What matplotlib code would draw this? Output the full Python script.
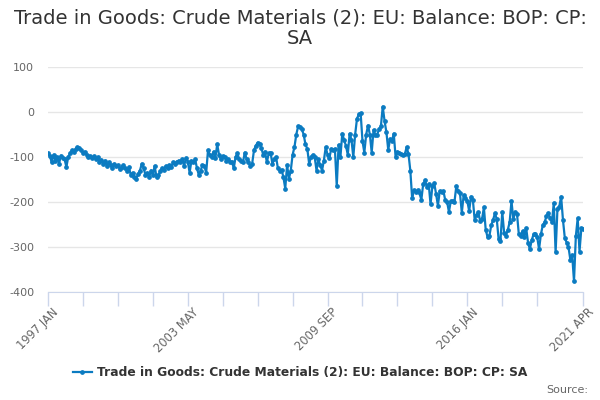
import numpy as np
import pandas as pd
import matplotlib
matplotlib.use("Agg")
import matplotlib.pyplot as plt

# monthly balance, 1997 JAN .. 2021 APR (GBP m)
balance = [
    -92, -97, -112, -95, -108, -100, -115, -97, -102, -105, -122, -100,   # 1997
    -92, -85, -88, -82, -78, -80, -84, -90, -88, -95, -100, -98,          # 1998
    -102, -98, -105, -100, -110, -106, -115, -108, -120, -112, -118, -125,  # 1999
    -115, -120, -118, -127, -122, -118, -125, -130, -122, -140, -135, -145,  # 2000
    -148, -138, -130, -115, -125, -140, -135, -145, -130, -140, -120, -145,  # 2001
    -140, -132, -125, -128, -120, -125, -118, -122, -112, -115, -110, -108,  # 2002
    -112, -105, -120, -102, -110, -135, -108, -112, -105, -125, -140, -130,  # 2003
    -118, -120, -135, -85, -95, -100, -88, -102, -72, -95, -105, -98,      # 2004
    -100, -108, -105, -112, -110, -125, -100, -92, -105, -108, -112, -90,  # 2005
    -105, -112, -120, -115, -85, -75, -68, -72, -80, -95, -88, -112,       # 2006
    -92, -90, -115, -105, -100, -125, -130, -128, -145, -170, -118, -148,  # 2007
    -130, -95, -78, -50, -32, -33, -38, -50, -72, -82, -115, -100,         # 2008
    -95, -100, -130, -105, -118, -130, -108, -78, -95, -102, -82, -85,     # 2009
    -82, -165, -73, -100, -48, -62, -75, -95, -48, -62, -100, -50,         # 2010
    -15, -5, -3, -65, -90, -50, -30, -50, -90, -40, -52, -50,              # 2011
    -38, -32, 12, -20, -45, -84, -60, -65, -48, -100, -88, -90,            # 2012
    -93, -95, -94, -78, -93, -130, -192, -174, -178, -174, -181, -195,     # 2013
    -160, -152, -166, -160, -205, -165, -158, -182, -208, -176, -178, -176,  # 2014
    -196, -200, -222, -198, -197, -200, -165, -175, -180, -224, -185, -190,  # 2015
    -198, -220, -188, -195, -240, -228, -222, -243, -238, -212, -262, -278,  # 2016
    -275, -252, -240, -225, -238, -282, -287, -222, -268, -275, -262, -245,  # 2017
    -198, -238, -222, -226, -272, -275, -265, -278, -258, -290, -305, -285,  # 2018
    -272, -270, -278, -305, -272, -252, -245, -232, -225, -235, -245, -202,  # 2019
    -312, -215, -210, -188, -240, -280, -290, -300, -328, -318, -376, -276,  # 2020
    -236, -310, -258, -260,                                                # 2021
]
months = pd.date_range("1997-01-01", periods=len(balance), freq="MS")
labelled_months = ["1997-01", "2003-05", "2009-09", "2016-01", "2021-04"]
y_ticks = [100, 0, -100, -200, -300, -400]

title = "Trade in Goods: Crude Materials (2): EU: Balance: BOP: CP:\nSA"
series_name = "Trade in Goods: Crude Materials (2): EU: Balance: BOP: CP: SA"

blue = "#0b7bc1"
grid_col = "#e6e6e6"
axis_col = "#ccd6eb"
text_col = "#333333"
label_col = "#666666"

x = np.arange(len(balance))

fig = plt.figure(figsize=(6, 4), dpi=100)
ax = fig.add_axes([0.08, 0.27, 0.892, 0.5625])

ax.plot(x, balance, color=blue, lw=1.6, marker="o", ms=2.4, zorder=3)

ax.set_xlim(0, len(balance) - 1)
ax.set_ylim(-400, 100)
ax.set_yticks(y_ticks)
ax.set_yticklabels([str(v) for v in y_ticks])
ax.grid(axis="y", color=grid_col, lw=1)
ax.set_axisbelow(True)

for s in ["left", "right", "top"]:
    ax.spines[s].set_visible(False)
ax.spines["bottom"].set_color(axis_col)
ax.tick_params(axis="y", length=0, labelsize=8, labelcolor=label_col, pad=10)

# minor ticks every 19 months plus the last month, labels on a few
tick_pos = list(range(0, len(balance), 19))
tick_pos = [p for p in tick_pos if p < len(balance) - 10] + [len(balance) - 1]
ax.set_xticks(tick_pos)
ax.set_xticklabels([""] * len(tick_pos))
ax.tick_params(axis="x", length=10, color=axis_col, width=1)

idx = {m.strftime("%Y-%m"): i for i, m in enumerate(months)}
for key in labelled_months:
    i = idx[key]
    lab = months[i].strftime("%Y %b").upper()
    ax.annotate(lab, xy=(i, 0), xycoords=("data", "axes fraction"),
                xytext=(3, -10), textcoords="offset points",
                rotation=45, ha="right", va="top", rotation_mode="anchor",
                fontsize=8.3, color=label_col)

fig.text(0.5, 0.978, title, ha="center", va="top", fontsize=14,
         color=text_col, linespacing=1.05)

# legend built by hand so it sits centred at the bottom
fig.legend([plt.Line2D([], [], color=blue, lw=1.6, marker="o", ms=2.4)],
           [series_name], loc="center", bbox_to_anchor=(0.5, 0.068),
           frameon=False, handlelength=1.6, handletextpad=0.4,
           prop={"size": 8.8, "weight": "bold"}, labelcolor=text_col)

fig.text(0.98, 0.025, "Source:", ha="right", va="center", fontsize=8,
         color=label_col)

fig.savefig("out.png", dpi=100)
